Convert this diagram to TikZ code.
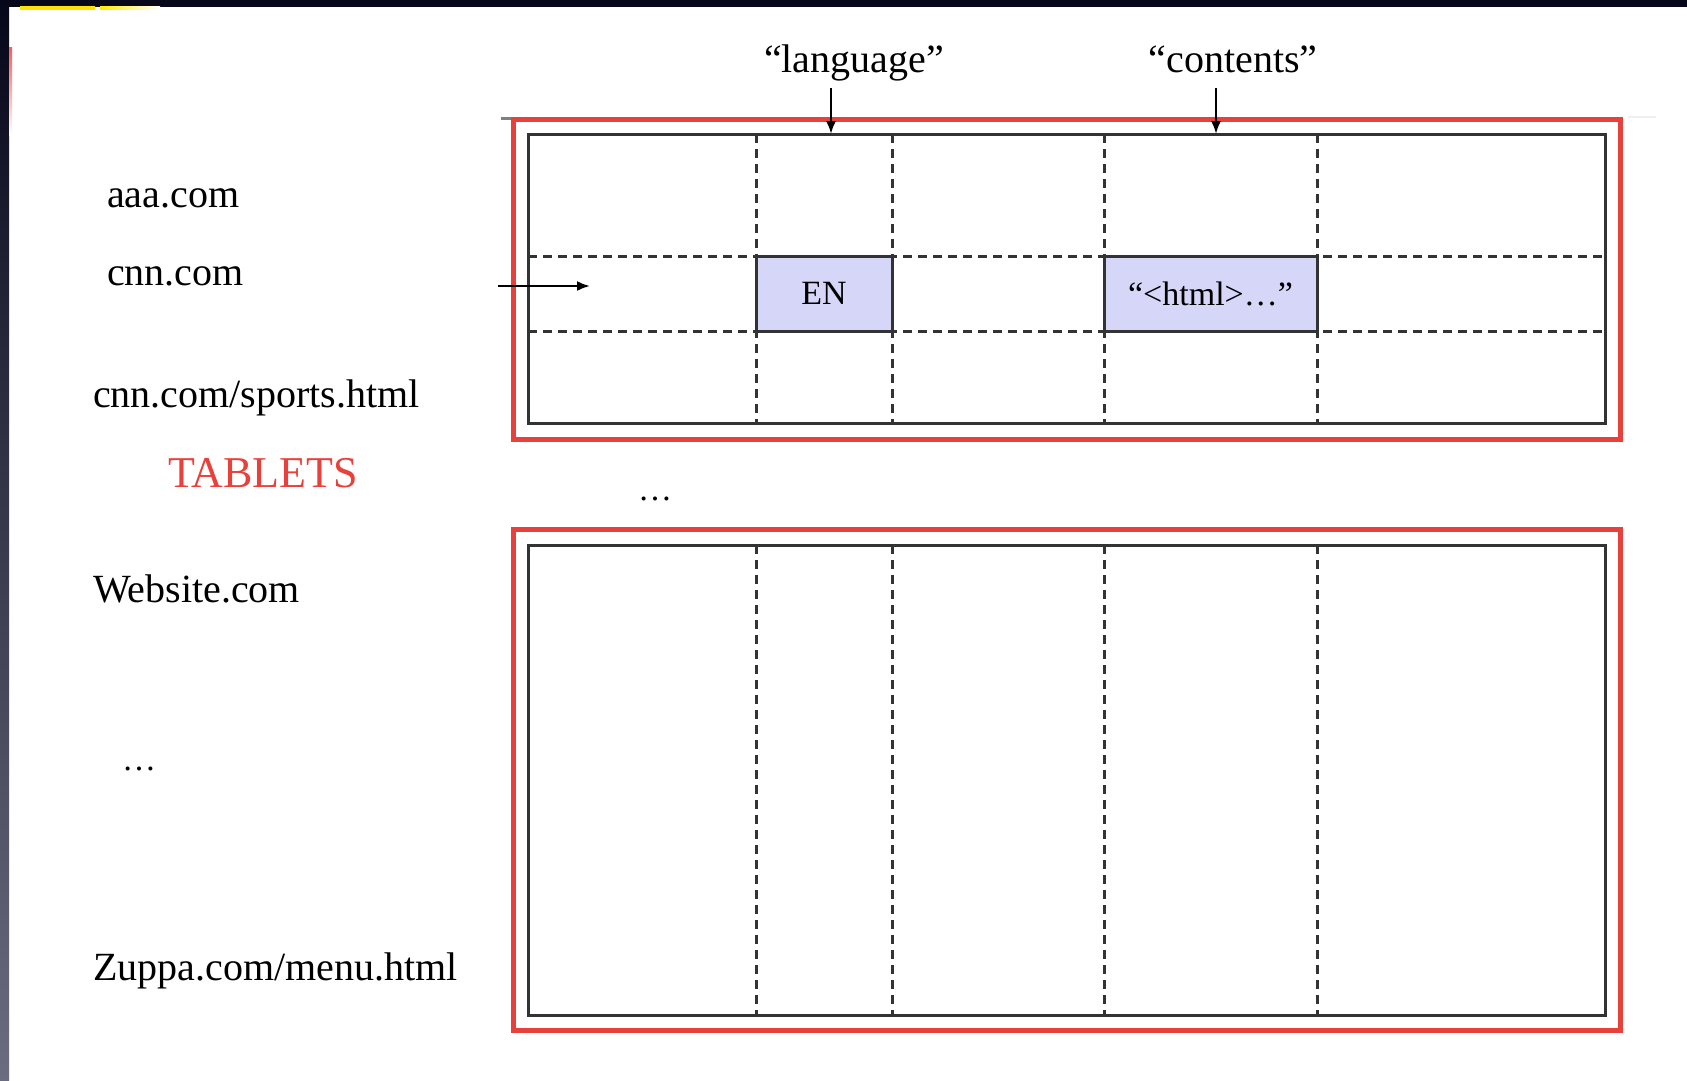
\documentclass[tikz,border=0pt]{standalone}
\usepackage{fontspec}
\setmainfont{Liberation Serif}
\usetikzlibrary{arrows.meta}
\definecolor{redline}{HTML}{E8403A}
\definecolor{cellfill}{HTML}{D6D6F8}
\definecolor{gridgray}{HTML}{333333}
\definecolor{tabred}{HTML}{E8403A}
\definecolor{bandtop}{HTML}{07071A}
\definecolor{bandbot}{HTML}{6C6C80}
\begin{document}
\begin{tikzpicture}[x=1pt,y=-1pt,
  lbl/.style={inner sep=0pt, anchor=base west, font=\fontsize{40}{48}\selectfont},
  toplbl/.style={inner sep=0pt, anchor=base, font=\fontsize{40}{48}\selectfont},
  redbox/.style={draw=redline, line width=5pt},
  tbox/.style={draw=gridgray, line width=3pt},
  gridln/.style={draw=gridgray, line width=3pt, dash pattern=on 9pt off 6pt},
  cellbox/.style={draw=gridgray, line width=3pt, fill=cellfill, inner sep=0pt,
    minimum height=75pt, font=\fontsize{34}{40}\selectfont},
  arr/.style={draw=black, line width=2.2pt, -{Latex[length=13pt,width=10pt]}}]

\useasboundingbox (0,0) rectangle (1687,1080);
\fill[white] (0,0) rectangle (1687,1080);

% window frame remnants
\fill[bandtop] (0,0) rectangle (1687,7);
\shade[top color=bandtop, bottom color=bandbot] (0,0) rectangle (9,1080);
\fill[yellow!85!orange] (20,6) rectangle (95,9.5);
\shade[left color=yellow!85!orange, right color=white] (100,6) rectangle (160,9.5);
\shade[top color=red!65, bottom color=white] (9,47) rectangle (12,135);

% faint fragments near top table
\draw[gray, line width=3pt] (501,118) -- (513,118);
\draw[black!6, line width=2pt] (1628,117) -- (1656,117);

% ---------- top table ----------
\draw[redbox] (513,119) rectangle (1620,439);
\foreach \xx in {756,892,1104,1317} \draw[gridln] (\xx,134) -- (\xx,423);
\foreach \yy in {256,331} \draw[gridln] (528,\yy) -- (1605,\yy);
\draw[tbox] (528,134) rectangle (1605,423);
\node[cellbox, minimum width=136pt] (en) at (824,293.5) {EN};
\node[cellbox, minimum width=213pt] (html) at (1210.5,293.5) {“<html>…”};

% column labels and arrows
\node[toplbl] (language) at (854,72) {“language”};
\node[toplbl] (contents) at (1233,72) {“contents”};
\coordinate (langA) at (831,88);
\coordinate (langB) at (831,134);
\coordinate (contA) at (1216,88);
\coordinate (contB) at (1216,134);
\draw[arr] (langA) -- (langB);
\draw[arr] (contA) -- (contB);

% row arrow
\coordinate (rowA) at (498,286);
\coordinate (rowB) at (590,286);
\draw[arr] (rowA) -- (rowB);

% ---------- bottom table ----------
\draw[redbox] (513,529) rectangle (1620,1030);
\foreach \xx in {756,892,1104,1317} \draw[gridln] (\xx,545) -- (\xx,1015);
\draw[tbox] (528,545) rectangle (1605,1015);

% ---------- left labels ----------
\node[lbl] (aaa) at (107,207) {aaa.com};
\node[lbl] (cnn) at (107,285) {cnn.com};
\node[lbl] (sports) at (93,407) {cnn.com/sports.html};
\node[lbl, text=tabred, font=\fontsize{44}{52}\selectfont] (tablets) at (168,487) {TABLETS};
\node[lbl, font=\fontsize{34}{40}\selectfont] (dotsmid) at (638,500) {…};
\node[lbl] (website) at (93,602) {Website.com};
\node[lbl, font=\fontsize{34}{40}\selectfont] (dotsleft) at (122,770) {…};
\node[lbl] (zuppa) at (93,980) {Zuppa.com/menu.html};
\end{tikzpicture}
\end{document}
